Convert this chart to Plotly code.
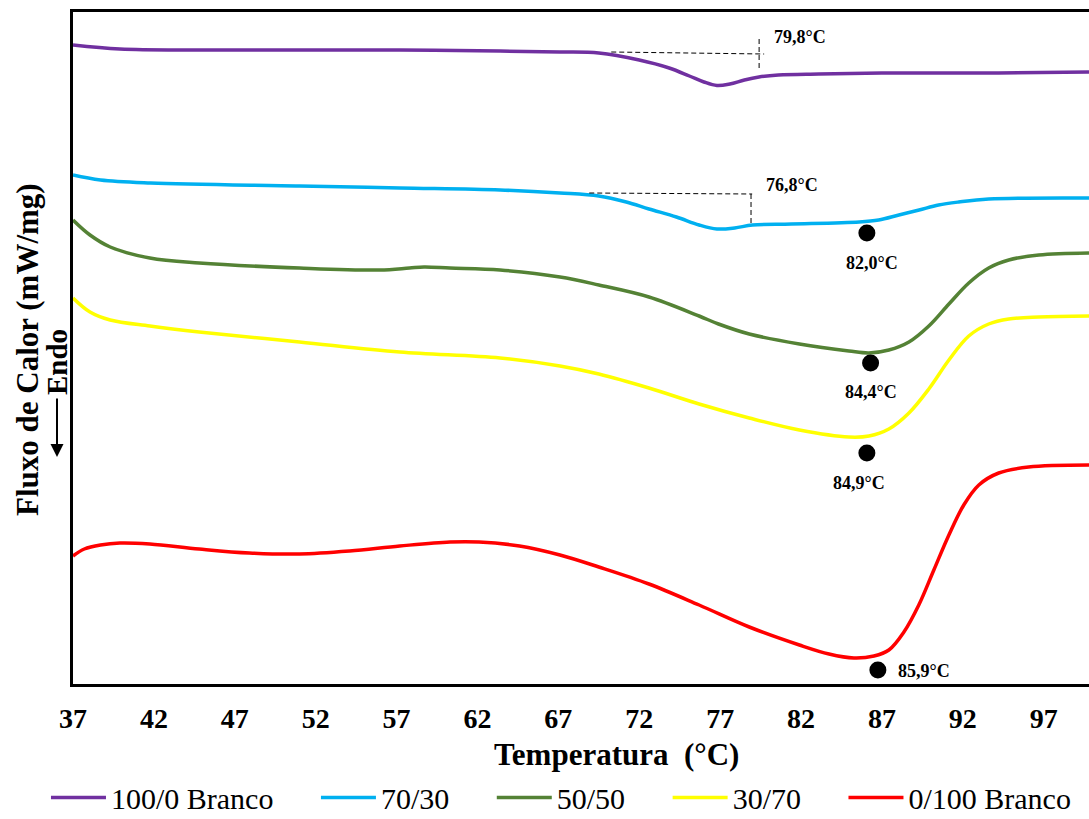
import plotly.graph_objects as go

# DSC curves: temperature (°C) and heat flow (mW/mg, endo down, stacked offsets)
t_100_0 = [37.0, 39.9, 44.8, 51.0, 57.2, 63.4, 67.1, 69.5, 72.0, 73.85, 75.1, 76.0, 76.8, 77.6, 78.5, 79.4, 80.6,
           83.1, 87.0, 94.2, 99.8]
q_100_0 = [6.41, 6.37, 6.36, 6.36, 6.36, 6.35, 6.34, 6.33, 6.26, 6.18, 6.10, 6.04, 6.005, 6.02, 6.06, 6.09, 6.11,
           6.12, 6.13, 6.13, 6.14]

t_70_30 = [37.0, 38.7, 41.8, 51.0, 57.2, 63.4, 67.1, 69.5, 71.2, 72.6, 74.3, 75.7, 76.8, 77.9, 79.0, 81.4, 85.6,
           86.8, 88.05, 89.3, 90.5, 91.75, 93.6, 99.8]
q_70_30 = [5.11, 5.06, 5.03, 5.00, 4.98, 4.96, 4.93, 4.90, 4.84, 4.77, 4.69, 4.61, 4.57, 4.58, 4.61, 4.62, 4.64,
           4.66, 4.71, 4.76, 4.81, 4.84, 4.87, 4.88]

t_50_50 = [37.0, 38.05, 39.3, 41.75, 44.8, 51.0, 55.95, 57.8, 58.7, 60.3, 63.4, 67.1, 69.5, 72.6, 75.7, 76.9, 78.8,
           81.9, 84.96, 86.2, 87.43, 88.67, 89.9, 91.14, 92.37, 93.6, 94.84, 96.7, 99.8]
q_50_50 = [4.66, 4.51, 4.39, 4.28, 4.23, 4.18, 4.16, 4.18, 4.19, 4.18, 4.16, 4.09, 4.01, 3.89, 3.70, 3.62, 3.52,
           3.42, 3.35, 3.33, 3.36, 3.44, 3.60, 3.82, 4.03, 4.18, 4.26, 4.31, 4.33]

t_30_70 = [37.0, 38.05, 39.3, 41.75, 44.8, 51.0, 57.2, 63.4, 67.1, 69.5, 72.6, 75.7, 78.8, 81.9, 84.96, 86.2,
           87.43, 88.67, 89.9, 91.14, 92.37, 93.6, 94.84, 96.7, 99.8]
q_30_70 = [3.88, 3.74, 3.66, 3.60, 3.54, 3.44, 3.34, 3.28, 3.20, 3.12, 2.98, 2.82, 2.68, 2.56, 2.49, 2.50,
           2.57, 2.73, 2.97, 3.26, 3.50, 3.62, 3.67, 3.69, 3.70]

t_0_100 = [37.0, 37.7, 38.7, 39.9, 41.75, 44.8, 47.9, 51.0, 54.1, 57.2, 60.3, 62.1, 64.6, 67.1, 69.5, 72.6, 75.7,
           78.8, 81.9, 83.73, 85.27, 86.51, 87.43, 88.36, 89.28, 90.21, 91.14, 92.06, 92.99, 94.22, 96.07, 99.8]
q_0_100 = [1.30, 1.37, 1.41, 1.43, 1.42, 1.37, 1.33, 1.32, 1.35, 1.40, 1.44, 1.44, 1.40, 1.31, 1.19, 1.02, 0.81,
           0.59, 0.41, 0.32, 0.28, 0.30, 0.36, 0.54, 0.81, 1.16, 1.51, 1.81, 2.01, 2.13, 2.19, 2.21]

series_names = ["100/0 Branco", "70/30", "50/50", "30/70", "0/100 Branco"]
series_colors = ["#7030A0", "#00B0F0", "#548235", "#FFFF00", "#FF0000"]
series_t = [t_100_0, t_70_30, t_50_50, t_30_70, t_0_100]
series_q = [q_100_0, q_70_30, q_50_50, q_30_70, q_0_100]

# Peak markers and their labels
peak_t = [86.07, 86.3, 86.07, 86.75]
peak_q = [4.53, 3.23, 2.33, 0.16]
peak_text = ["82,0°C", "84,4°C", "84,9°C", "85,9°C"]
peak_label_t = [86.4, 86.3, 85.6, 87.9]
peak_label_q = [4.23, 2.94, 2.03, 0.15]
peak_label_anchor = ["center", "center", "center", "left"]

# Onset constructions (tangent + vertical dashed lines)
onset_h_t = [[70.27, 79.72], [68.91, 78.98]]
onset_h_q = [[6.34, 6.32], [4.93, 4.92]]
onset_v_t = [79.41, 78.91]
onset_v_q = [[6.47, 6.15], [4.92, 4.60]]
onset_text = ["79,8°C", "76,8°C"]
onset_label_t = [80.2, 79.7]
onset_label_q = [6.49, 5.01]

x_ticks = [37, 42, 47, 52, 57, 62, 67, 72, 77, 82, 87, 92, 97]

FONT = "Liberation Serif, Times New Roman, Tinos, Times, serif"
LEGEND_PAD = "\u00a0" * 5  # spacing between horizontal legend entries

fig = go.Figure()

for i, (name, color, t, q) in enumerate(zip(series_names, series_colors, series_t, series_q)):
    label = name if i == len(series_names) - 1 else name + LEGEND_PAD
    fig.add_trace(go.Scatter(
        x=t, y=q, mode="lines", name=label,
        line=dict(color=color, width=3.5, shape="spline", smoothing=1.0),
    ))

for ht, hq, vt, vq in zip(onset_h_t, onset_h_q, onset_v_t, onset_v_q):
    fig.add_trace(go.Scatter(x=ht, y=hq, mode="lines", showlegend=False, hoverinfo="skip",
                             line=dict(color="black", width=1, dash="5px,3px")))
    fig.add_trace(go.Scatter(x=[vt, vt], y=vq, mode="lines", showlegend=False, hoverinfo="skip",
                             line=dict(color="black", width=1, dash="5px,3px")))

fig.add_trace(go.Scatter(x=peak_t, y=peak_q, mode="markers", showlegend=False,
                         marker=dict(color="black", size=17, symbol="circle")))

for txt, x, y, anc in zip(peak_text, peak_label_t, peak_label_q, peak_label_anchor):
    fig.add_annotation(x=x, y=y, text=txt, showarrow=False, xanchor=anc, yanchor="middle",
                       font=dict(family=FONT, size=18, color="black", weight="bold"))
for txt, x, y in zip(onset_text, onset_label_t, onset_label_q):
    fig.add_annotation(x=x, y=y, text=txt, showarrow=False, xanchor="left", yanchor="middle",
                       font=dict(family=FONT, size=18, color="black", weight="bold"))

# Axis titles
fig.add_annotation(xref="paper", yref="paper", x=0.5354, y=-0.1055, text="Temperatura\u00a0 (°C)",
                   showarrow=False, xanchor="center", yanchor="middle",
                   font=dict(family=FONT, size=31, color="black", weight="bold"))
fig.add_annotation(xref="paper", yref="paper", x=-0.0453, y=0.4985, text="Fluxo de Calor (mW/mg)",
                   showarrow=False, textangle=-90, xanchor="center", yanchor="middle",
                   font=dict(family=FONT, size=31, color="black", weight="bold"))
fig.add_annotation(xref="paper", yref="paper", x=-0.01575, y=0.3378, text="Endo",
                   showarrow=True, ax=0, ay=-95, arrowhead=2, arrowsize=1.3, arrowwidth=2,
                   arrowcolor="black", textangle=-90, standoff=0, startstandoff=2,
                   font=dict(family=FONT, size=29, color="black", weight="bold"))

fig.update_layout(
    width=1089, height=819,
    margin=dict(l=73, r=0, t=12, b=135, autoexpand=False),
    font=dict(family=FONT, color="black"),
    paper_bgcolor="white", plot_bgcolor="white",
    showlegend=True,
    legend=dict(orientation="h", x=-0.0266, xanchor="left", y=-0.169, yanchor="middle",
                font=dict(family=FONT, size=30, color="black", weight="normal"), itemwidth=55,
                bgcolor="rgba(0,0,0,0)", borderwidth=0),
    xaxis=dict(range=[37, 99.8], tickvals=x_ticks, ticktext=[str(v) for v in x_ticks],
               showgrid=False, zeroline=False, showline=True, linecolor="black", linewidth=2.5,
               mirror=True, ticks="", ticklabelstandoff=8,
               tickfont=dict(family=FONT, size=28, color="black", weight="bold")),
    yaxis=dict(range=[0.02, 6.74], showgrid=False, zeroline=False, showticklabels=False,
               showline=True, linecolor="black", linewidth=2.5, ticks=""),
)

fig.write_html("out.html")
